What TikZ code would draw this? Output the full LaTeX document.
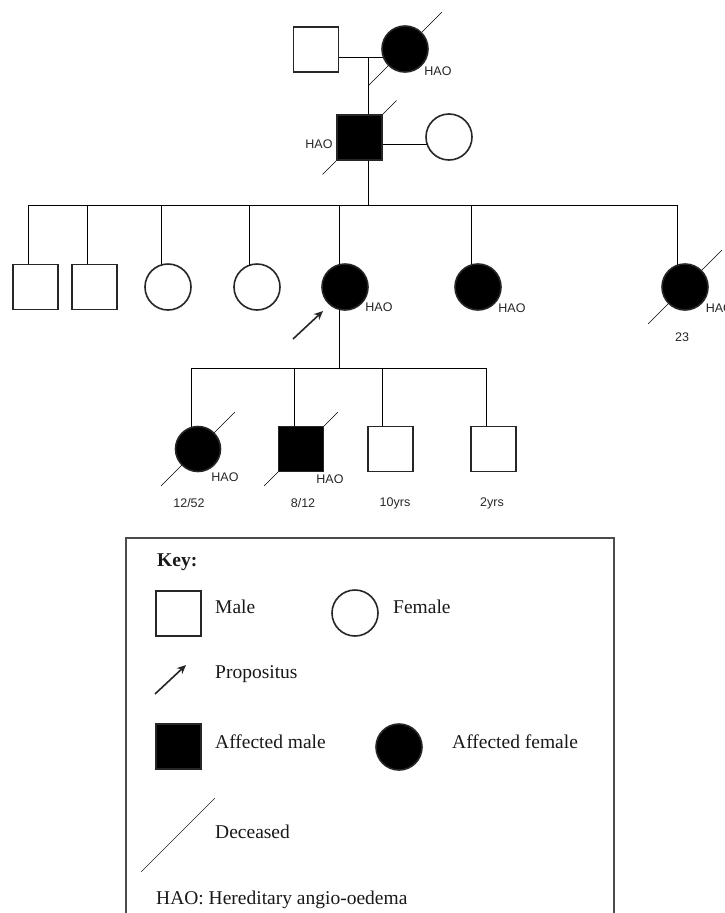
\documentclass[tikz,border=0pt]{standalone}
\usepackage{fontspec}
\setmainfont{Liberation Serif}
\setsansfont{Liberation Sans}
\usetikzlibrary{arrows.meta}
\pgfdeclarelayer{background}
\pgfsetlayers{background,main}
\begin{document}
\begin{tikzpicture}[x=1pt,y=-1pt,
  line width=1.6pt, color=black!85,
  male/.style={draw=black!85,rectangle,minimum size=45pt,inner sep=0pt,fill=white,line width=1.6pt},
  female/.style={draw=black!85,circle,minimum size=46pt,inner sep=0pt,fill=white,line width=1.6pt},
  aff/.style={fill=black},
  lbl/.style={font=\sffamily\fontsize{12.5}{13}\selectfont,inner sep=0pt,text=black!85},
  keytxt/.style={font=\fontsize{19.5}{21}\selectfont,anchor=west,inner sep=0pt,text=black!90},
  propo/.style={-{Stealth[length=9pt,width=8pt]},line width=1.6pt}
]
\useasboundingbox (0,0) rectangle (725,913);
\clip (0,0) rectangle (725,913);

% ---------- Generation I ----------
\node[male] (g1m) at (316,49.5) {};
\node[female,aff] (g1f) at (405,49) {};
\coordinate (m1) at (368,57);
\node[lbl] (h1) at (438,71) {HAO};

% ---------- Generation II ----------
\node[male,aff] (g2m) at (359.5,137.5) {};
\node[female] (g2f) at (449,137) {};
\coordinate (m2) at (368,144);
\coordinate (s2) at (368,205);
\node[lbl] (h2) at (319,144) {HAO};

% ---------- Generation III ----------
\coordinate (sL) at (28,205);
\coordinate (sR) at (677,205);
\node[male] (c1) at (35.5,287) {};
\node[male] (c2) at (94.5,287) {};
\node[female] (c3) at (168,287) {};
\node[female] (c4) at (257,287) {};
\node[female,aff] (c5) at (345,287) {};
\node[female,aff] (c6) at (478,287) {};
\node[female,aff] (c7) at (685,287) {};
\coordinate (d1) at (28,205);
\coordinate (d2) at (87,205);
\coordinate (d3) at (161,205);
\coordinate (d4) at (249,205);
\coordinate (d5) at (339,205);
\coordinate (d6) at (471,205);
\coordinate (d7) at (677,205);
\node[lbl] (h5) at (379,307) {HAO};
\node[lbl] (h6) at (512,308) {HAO};
\node[lbl,anchor=west] (h7) at (705,308) {HAO};
\node[lbl] (a7) at (682,337) {23};
\coordinate (p0) at (293,339);
\coordinate (p1) at (323,311);
\draw[propo] (p0) -- (p1);

% ---------- Generation IV ----------
\coordinate (m3) at (339,368);
\coordinate (tL) at (191,368);
\coordinate (tR) at (486,368);
\node[female,aff,minimum size=45pt] (e1) at (198,449) {};
\node[male,aff] (e2) at (301,449) {};
\node[male] (e3) at (390.5,449) {};
\node[male] (e4) at (493.5,449) {};
\coordinate (f1) at (191,368);
\coordinate (f2) at (294,368);
\coordinate (f3) at (382,368);
\coordinate (f4) at (486,368);
\node[lbl] (h8) at (225,477) {HAO};
\node[lbl] (h9) at (330,479) {HAO};
\node[lbl] (a1) at (189,503) {12/52};
\node[lbl] (a2) at (303,503) {8/12};
\node[lbl] (a3) at (395,503) {10yrs};
\node[lbl] (a4) at (492,503) {2yrs};

% ---------- connectors and deceased marks (behind symbols) ----------
\begin{pgfonlayer}{background}
\draw (g1m.east |- m1) -- (g1f.center |- m1);
\draw (m1) -- (m1 |- g2m.center);
\draw (g2m.center |- m2) -- (g2f.center |- m2);
\draw (m2 |- g2m.center) -- (s2);
\draw (sL) -- (sR);
\foreach \d/\c in {d1/c1,d2/c2,d3/c3,d4/c4,d5/c5,d6/c6,d7/c7}
  \draw (\d) -- (\d |- \c.center);
\draw (m3 |- c5.center) -- (m3);
\draw (tL) -- (tR);
\foreach \d/\c in {f1/e1,f2/e2,f3/e3,f4/e4}
  \draw (\d) -- (\d |- \c.center);
\foreach \n in {g1f,g2m,c7,e1,e2}
  \draw (\n.center) ++(-37,37) -- ++(74,-74);
\end{pgfonlayer}

% ---------- Key ----------
\draw[line width=1.4pt,draw=black!70] (126,960) -- (126,538) -- (614,538) -- (614,960);
\node[keytxt,font=\bfseries\fontsize{19.5}{21}\selectfont] (kkey) at (157,562) {Key:};
\node[male] (kmale) at (178.5,613.5) {};
\node[keytxt] (tmale) at (215,607) {Male};
\node[female] (kfem) at (355,613) {};
\node[keytxt] (tfem) at (393,607) {Female};
\coordinate (kp0) at (155,694);
\coordinate (kp1) at (186,665);
\draw[propo] (kp0) -- (kp1);
\node[keytxt] (tprop) at (215,674) {Propositus};
\node[male,aff] (kam) at (178.5,746.5) {};
\node[keytxt] (tam) at (215,742) {Affected male};
\node[female,aff] (kaf) at (399,747) {};
\node[keytxt] (taf) at (452,742) {Affected female};
\coordinate (kd0) at (141,872);
\coordinate (kd1) at (215,798);
\draw (kd0) -- (kd1);
\node[keytxt] (tdec) at (215,832) {Deceased};
\node[keytxt] (thao) at (156,900) {HAO: Hereditary angio-oedema};
\end{tikzpicture}
\end{document}
